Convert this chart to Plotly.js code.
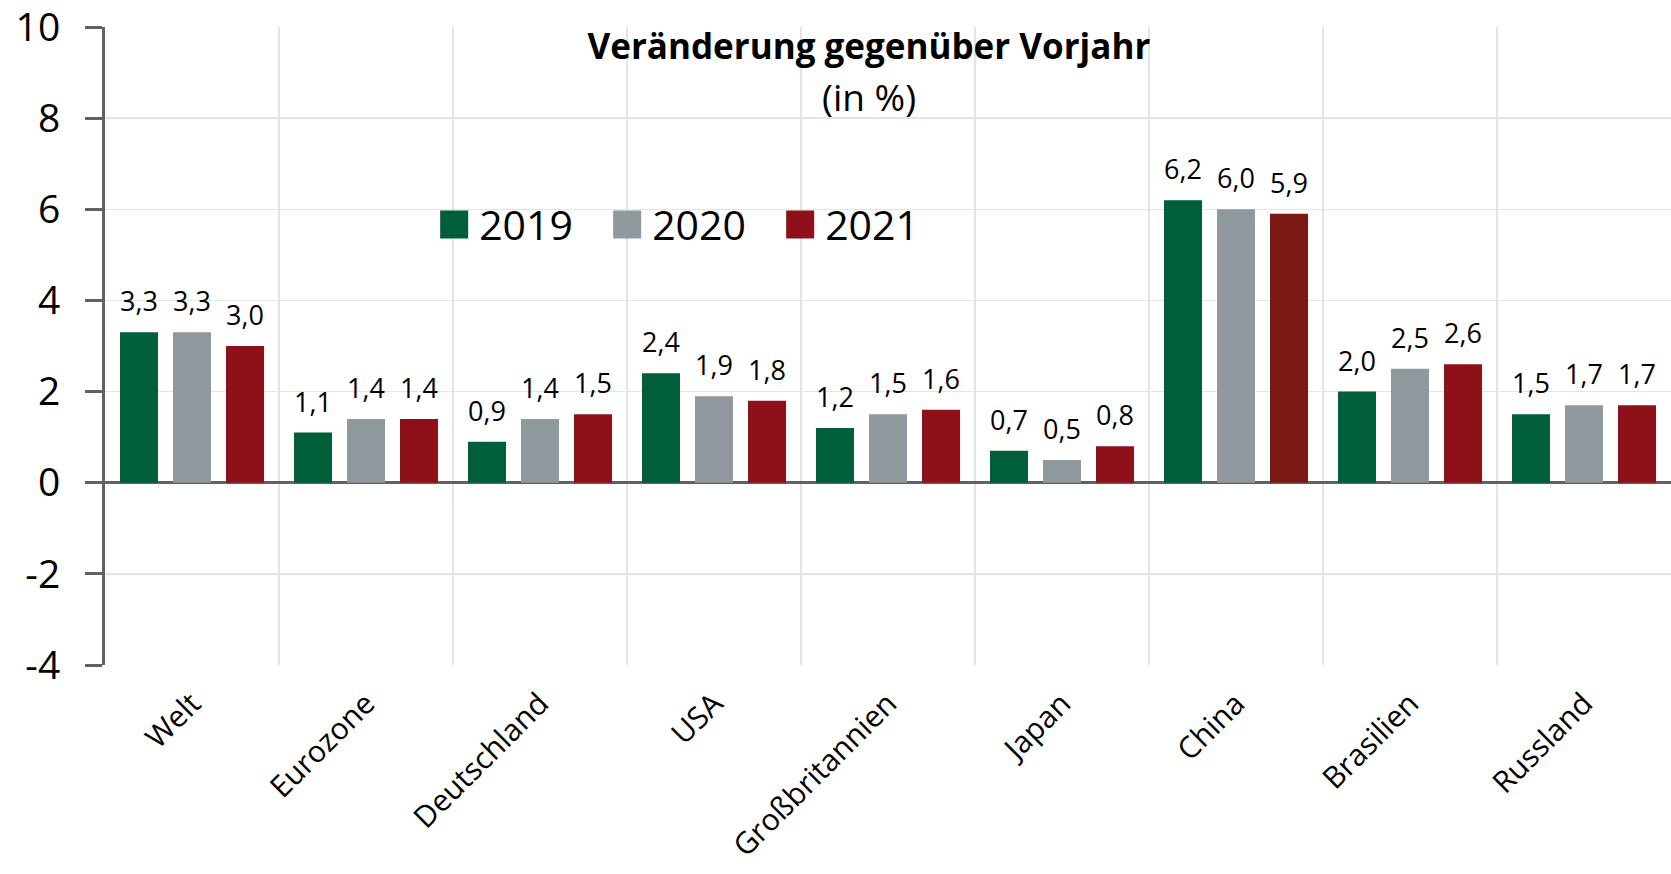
<!DOCTYPE html>
<html><head><meta charset="utf-8">
<script src="https://cdn.plot.ly/plotly-3.0.1.min.js"></script>
<style>html,body{margin:0;padding:0;background:#fff}#chart{width:1671px;height:874px}</style>
</head><body><div id="chart"></div>
<script>
const categories = ['Welt','Eurozone','Deutschland','USA','Großbritannien','Japan','China','Brasilien','Russland'];
const values2019 = [3.3,1.1,0.9,2.4,1.2,0.7,6.2,2.0,1.5];
const values2020 = [3.3,1.4,1.4,1.9,1.5,0.5,6.0,2.5,1.7];
const values2021 = [3.0,1.4,1.5,1.8,1.6,0.8,5.9,2.6,1.7];
const seriesNames = ['2019','2020','2021'];
const yTickValues = [-4,-2,0,2,4,6,8,10];
const yTickLabels = ['-4','-2','0','2','4','6','8','10'];
const titleText = 'Veränderung gegenüber Vorjahr';
const subtitleText = '(in %)';

const FONT = '"Open Sans", "Noto Sans", sans-serif';
const GREEN = '#005e39', GRAY = '#8f999e', RED = '#8e111a', DARKRED = '#7b1814';
const AXIS = '#5f6368', GRID = '#e2e5e8';

const series = [values2019, values2020, values2021];
const colors = [
  GREEN, GRAY,
  categories.map(c => c === 'China' ? DARKRED : RED)
];

const traces = series.map((vals, i) => ({
  type: 'bar', x: categories, y: vals, name: seriesNames[i],
  marker: {color: colors[i]}, hoverinfo: 'x+y+name'
}));

const fmt = v => v.toFixed(1).replace('.', ',');
const annotations = [];
series.forEach((vals, i) => {
  vals.forEach((v, j) => {
    annotations.push({
      x: categories[j], y: v, xref: 'x', yref: 'y', text: fmt(v),
      showarrow: false, xshift: (i - 1) * 53, yshift: 11, yanchor: 'bottom',
      font: {family: FONT, size: 27, color: '#000'}
    });
  });
});
annotations.push({
  xref: 'paper', yref: 'paper', x: 0.488, y: 0.891, text: subtitleText,
  showarrow: false, xanchor: 'center', yanchor: 'middle',
  font: {family: FONT, size: 37, color: '#000'}
});

const layout = {
  width: 1671, height: 874,
  margin: {l: 105, r: 0, t: 27, b: 209},
  paper_bgcolor: '#fff', plot_bgcolor: '#fff',
  font: {family: FONT, color: '#000'},
  title: {
    text: '<b>' + titleText + '</b>', xref: 'container', yref: 'container',
    x: 0.52, xanchor: 'center', y: 1 - 47 / 874, yanchor: 'middle',
    font: {family: FONT, size: 35, color: '#000'}
  },
  barmode: 'group', bargap: 0.086, bargroupgap: 0.283,
  showlegend: true,
  legend: {
    orientation: 'h', x: 0.207, y: 0.69, xanchor: 'left', yanchor: 'middle',
    font: {family: FONT, size: 41, color: '#000'}, bgcolor: 'rgba(0,0,0,0)',
    itemwidth: 40, entrywidth: 118, entrywidthmode: 'pixels'
  },
  xaxis: {
    type: 'category', tickson: 'boundaries', ticks: '', showgrid: true,
    gridcolor: GRID, gridwidth: 1.5, showline: false, zeroline: false,
    tickangle: -45, tickfont: {family: FONT, size: 30, color: '#000'},
    ticklabelstandoff: 14,
    range: [-0.5, 8.5], fixedrange: true
  },
  yaxis: {
    range: [-4.0001, 10.0001], tickmode: 'array', tickvals: yTickValues, ticktext: yTickLabels,
    ticks: 'outside', ticklen: 17, tickwidth: 3, tickcolor: AXIS,
    showline: true, linecolor: AXIS, linewidth: 3,
    showgrid: true, gridcolor: GRID, gridwidth: 1.5,
    zeroline: true, zerolinecolor: AXIS, zerolinewidth: 2.5,
    tickfont: {family: FONT, size: 39, color: '#000'}, ticklabelstandoff: 17,
    ticklabeloverflow: 'allow', fixedrange: true
  },
  annotations: annotations
};

Plotly.newPlot('chart', traces, layout, {displayModeBar: false, staticPlot: true}).then(() => {
  document.querySelectorAll('.legend .legendpoints path').forEach(p => {
    p.setAttribute('d', 'M14,14H-14V-14H14Z');
  });
});
</script>
</body></html>
